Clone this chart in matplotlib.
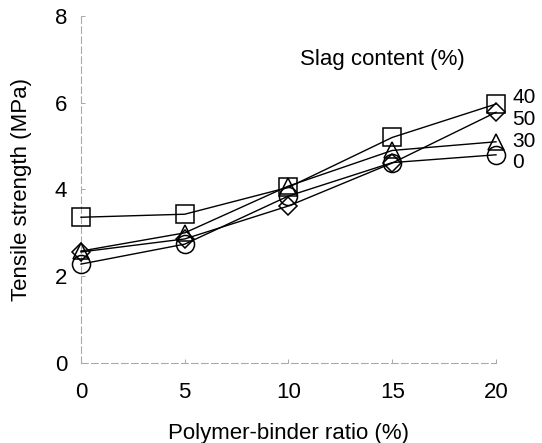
import numpy as np
import matplotlib.pyplot as plt

plt.rcParams['font.family'] = ['Liberation Sans', 'DejaVu Sans']

# 高分子结合材比 (%)
ratio = [0, 5, 10, 15, 20]

# 矿渣掺量 (%) -> 抗拉强度 (MPa)
slag_labels = ['40', '50', '30', '0']
strength_40 = [3.36, 3.43, 4.05, 5.20, 5.97]
strength_50 = [2.56, 2.86, 3.62, 4.61, 5.78]
strength_30 = [2.58, 3.00, 4.08, 4.90, 5.10]
strength_0 = [2.28, 2.74, 3.85, 4.62, 4.80]

series = [strength_40, strength_50, strength_30, strength_0]
markers = ['s', 'D', '^', 'o']
msizes = [13, 9, 12, 13]

fig = plt.figure(figsize=(5.42, 4.43), dpi=100)
ax = fig.add_axes([0.1494, 0.1806, 0.7657, 0.7833])

for vals, m, ms in zip(series, markers, msizes):
    ax.plot(ratio, vals, color='black', lw=1.0, marker=m, ms=ms,
            mfc='none', mec='black', mew=1.1, clip_on=False, zorder=3)

# 右侧标签
label_y = [6.12, 5.62, 5.10, 4.62]
for txt, yy in zip(slag_labels, label_y):
    ax.text(20.8, yy, txt, fontsize=15, va='center', ha='left')

ax.text(10.55, 7.0, 'Slag content (%)', fontsize=16, va='center', ha='left')

ax.set_xlim(0, 20)
ax.set_ylim(0, 8)
ax.set_xticks(ratio)
ax.set_yticks([0, 2, 4, 6, 8])
ax.tick_params(direction='in', length=3, width=0.6, color='#999999',
               labelsize=16)
ax.tick_params(axis='x', pad=14)
ax.tick_params(axis='y', pad=10)

for side in ['top', 'right']:
    ax.spines[side].set_visible(False)
for side in ['left', 'bottom']:
    ax.spines[side].set_color('#aaaaaa')
    ax.spines[side].set_linewidth(0.8)
    ax.spines[side].set_linestyle((0, (6, 3)))

ax.set_xlabel('Polymer-binder ratio (%)', fontsize=16, labelpad=14)
ax.set_ylabel('Tensile strength (MPa)', fontsize=16)
ax.yaxis.set_label_coords(-0.118, 0.5)

fig.savefig('out.png', dpi=100)
